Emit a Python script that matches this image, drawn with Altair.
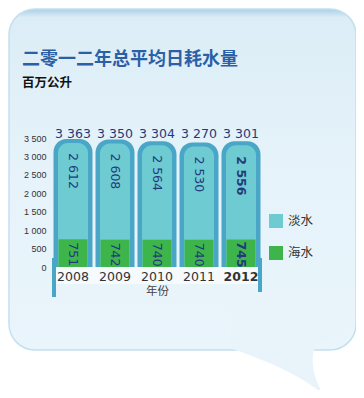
import altair as alt
import pandas as pd

years = ["2008", "2009", "2010", "2011", "2012"]
fresh = [2612, 2608, 2564, 2530, 2556]
sea = [751, 742, 740, 740, 745]
types = ["淡水", "海水"]
yticks = [0, 500, 1000, 1500, 2000, 2500, 3000, 3500]
title_text = "二零一二年总平均日耗水量"
subtitle_text = "百万公升"
x_title = "年份"

FRAME = "#4aa6c6"
TEAL = "#6ecbd1"
GREEN = "#3db54b"
NAVY = "#233a7a"

rows = []
for yr, f, s in zip(years, fresh, sea):
    rows.append({"year": yr, "type": types[0], "value": f, "top": f + s, "total": f + s})
    rows.append({"year": yr, "type": types[1], "value": s, "top": s, "total": f + s})
df = pd.DataFrame(rows)
one = pd.DataFrame({"k": [0]})

fmt = "replace(format(datum.{f}, ','), ',', ' ')"

xenc = alt.X(
    "year:N",
    sort=years,
    scale=alt.Scale(paddingInner=0, paddingOuter=0),
    title=x_title,
    axis=alt.Axis(
        labelFont="DejaVu Sans", labelFontSize=12.5, labelColor="#333333",
        labelFontWeight=alt.condition("datum.value == '2012'", alt.value("bold"), alt.value("normal")),
        labelPadding=3, domain=False, ticks=False, labelAngle=0,
        titleFont="Noto Sans CJK SC", titleFontSize=11.5, titleColor="#444444",
        titleFontWeight="normal", titlePadding=3, zindex=2,
    ),
)
yenc = alt.Y(
    "top:Q",
    scale=alt.Scale(domain=[0, 3500], nice=False),
    title=None,
    stack=None,
    axis=alt.Axis(
        values=yticks, labelFont="Liberation Sans", labelFontSize=9, labelColor="#333333",
        labelPadding=6, domain=False, ticks=False, grid=False, zindex=2,
        labelExpr="replace(format(datum.value, ','), ',', ' ')",
    ),
)

bubble = alt.Chart(one).mark_rect(
    cornerRadius=26,
    fill=alt.Gradient(
        gradient="linear",
        stops=[alt.GradientStop(color="#a9cfe6", offset=0),
               alt.GradientStop(color="#dcedf7", offset=0.025),
               alt.GradientStop(color="#e6f3fa", offset=0.5),
               alt.GradientStop(color="#e9f5fb", offset=1)],
        x1=0, x2=0, y1=0, y2=1,
    ),
    stroke="#c3e0ef", strokeWidth=1.5,
).encode(x=alt.value(-43), x2=alt.value(304), y=alt.value(-129), y2=alt.value(212))

tail_path = ("M -1.1667 -0.2 C -0.5 0.0333 0 0.25 0.3833 0.5667 "
             "C 0.2167 0.3 0.1333 -0.0833 0.3 -0.2833 "
             "C 0.5 -0.4 0.75 -0.4 0.8667 -0.5667 L 0.8667 -1 L -1.1667 -1 Z")
tail = alt.Chart(one).mark_point(
    shape=tail_path, filled=True, fill="#e8f4fa", size=14400, strokeWidth=0, opacity=1,
).encode(x=alt.value(248), y=alt.value(222))

strip = alt.Chart(one).mark_rect(fill="#f6fafc").encode(
    x=alt.value(0), x2=alt.value(210), y=alt.value(129), y2=alt.value(146)
)
rule_l = alt.Chart(one).mark_rule(color=FRAME, strokeWidth=4).encode(
    x=alt.value(2), y=alt.value(120), y2=alt.value(159)
)
rule_r = alt.Chart(one).mark_rule(color=FRAME, strokeWidth=4).encode(
    x=alt.value(208), y=alt.value(120), y2=alt.value(154)
)

fresh_df = alt.Chart(df).transform_filter(alt.datum.type == types[0])
sea_df = alt.Chart(df).transform_filter(alt.datum.type == types[1])

frame = fresh_df.mark_bar(
    color=FRAME, width=39, cornerRadiusTopLeft=13, cornerRadiusTopRight=13, yOffset=-4
).encode(x=xenc, y=yenc)

color = alt.Color(
    "type:N",
    scale=alt.Scale(domain=types, range=[TEAL, GREEN]),
    legend=alt.Legend(
        title=None, orient="none", legendX=217, legendY=76, symbolType="square",
        symbolSize=196, symbolStrokeWidth=0, labelFont="Noto Sans CJK SC",
        labelFontSize=12.5, labelColor="#333333", rowPadding=18, labelOffset=5,
        padding=0, symbolOpacity=1, zindex=2,
    ),
)

teal = fresh_df.mark_bar(
    width=30, cornerRadiusTopLeft=10, cornerRadiusTopRight=10
).encode(x=xenc, y=yenc, color=color)
green = sea_df.mark_bar(width=29).encode(x=xenc, y=yenc, color=color)

totals = fresh_df.transform_calculate(lbl=fmt.format(f="total")).mark_text(
    font="DejaVu Sans", fontSize=12.5, color=NAVY, align="center", baseline="middle"
).encode(x=xenc, y=alt.value(-4), text="lbl:N")


def inner(src, dx, bold):
    flt = "datum.year == '2012'" if bold else "datum.year != '2012'"
    return src.transform_filter(flt).transform_calculate(lbl=fmt.format(f="value")).mark_text(
        font="DejaVu Sans", fontSize=12.5, color=NAVY, angle=90, align="left",
        baseline="middle", dx=dx, fontWeight="bold" if bold else "normal",
    ).encode(x=xenc, y=yenc, text="lbl:N")


title = alt.Chart(one).mark_text(
    text=title_text, font="Noto Sans CJK SC", fontSize=18, fontWeight="bold",
    color="#2b5fa6", align="left", baseline="middle",
).encode(x=alt.value(-30), y=alt.value(-78))
subtitle = alt.Chart(one).mark_text(
    text=subtitle_text, font="Noto Sans CJK SC", fontSize=12.5, fontWeight="bold",
    color="#111111", align="left", baseline="middle",
).encode(x=alt.value(-30), y=alt.value(-55))

chart = alt.layer(
    bubble, tail, strip, rule_l, rule_r, frame, teal, green, totals,
    inner(fresh_df, 10, False), inner(fresh_df, 11, True),
    inner(sea_df, 3, False), inner(sea_df, 2, True),
    title, subtitle,
).properties(
    width=210, height=129,
    autosize=alt.AutoSizeParams(type="none"),
    padding={"left": 44, "top": 130, "right": 94, "bottom": 123},
    background="white",
).configure_view(stroke=None)

chart.save("out.html", embed_options={"renderer": "svg", "actions": False})
